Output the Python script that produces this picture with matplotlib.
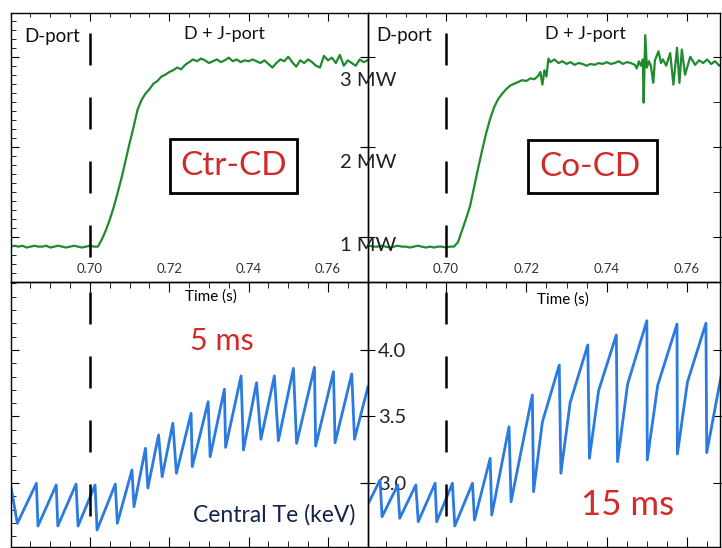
import matplotlib.pyplot as plt
from matplotlib.patches import Rectangle
from matplotlib.ticker import MultipleLocator

plt.rcParams['font.family'] = ['Lato', 'DejaVu Sans']

# --- data ---
# NBI power, Ctr-CD shot (MW)
t_pow_ctr = [0.680, 0.681, 0.682, 0.683, 0.684, 0.685, 0.686, 0.687, 0.688, 0.689,
             0.690, 0.691, 0.692, 0.693, 0.694, 0.695, 0.696, 0.697, 0.698, 0.699,
             0.700, 0.701, 0.702, 0.703, 0.704, 0.705, 0.706, 0.707, 0.708, 0.709,
             0.710, 0.711, 0.712, 0.713, 0.714, 0.715, 0.716, 0.717, 0.718, 0.719,
             0.720, 0.721, 0.722, 0.723, 0.724, 0.725, 0.726, 0.727, 0.728, 0.729,
             0.730, 0.731, 0.732, 0.733, 0.734, 0.735, 0.736, 0.737, 0.738, 0.739,
             0.740, 0.741, 0.742, 0.743, 0.744, 0.745, 0.746, 0.747, 0.748, 0.749,
             0.750, 0.751, 0.752, 0.753, 0.754, 0.755, 0.756, 0.757, 0.758, 0.759,
             0.760, 0.761, 0.762, 0.763, 0.764, 0.765, 0.766, 0.767, 0.768, 0.769, 0.770]
p_ctr = [0.89, 0.90, 0.89, 0.90, 0.88, 0.89, 0.90, 0.89, 0.89, 0.90,
         0.88, 0.89, 0.90, 0.89, 0.88, 0.89, 0.90, 0.89, 0.88, 0.89,
         0.90, 0.89, 0.89, 0.97, 1.07, 1.19, 1.33, 1.49, 1.66, 1.85,
         2.04, 2.22, 2.41, 2.52, 2.59, 2.64, 2.70, 2.73, 2.78, 2.80,
         2.83, 2.85, 2.88, 2.86, 2.91, 2.94, 2.97, 2.95, 2.98, 2.96,
         2.93, 2.95, 2.97, 2.94, 2.96, 2.99, 2.95, 2.97, 2.94, 2.96,
         2.95, 2.97, 2.95, 2.93, 2.96, 2.92, 2.88, 2.93, 2.97, 2.95,
         3.00, 2.94, 2.89, 2.96, 2.93, 2.97, 2.94, 2.90, 2.88, 3.01,
         2.96, 2.99, 2.93, 3.02, 2.90, 2.96, 2.93, 2.90, 2.97, 2.94, 2.96]

# NBI power, Co-CD shot (MW)
t_pow_co = [0.680, 0.681, 0.682, 0.683, 0.684, 0.685, 0.686, 0.687, 0.688, 0.689,
            0.690, 0.691, 0.692, 0.693, 0.694, 0.695, 0.696, 0.697, 0.698, 0.699,
            0.700, 0.701, 0.702, 0.703, 0.704, 0.705, 0.706, 0.707, 0.708, 0.709,
            0.710, 0.711, 0.712, 0.713, 0.714, 0.715, 0.716, 0.717, 0.718, 0.719,
            0.720, 0.721, 0.722, 0.723, 0.7235, 0.724, 0.7245, 0.725, 0.7255, 0.726,
            0.727, 0.728, 0.729, 0.730, 0.731, 0.732, 0.733, 0.734, 0.735, 0.736,
            0.737, 0.738, 0.739, 0.740, 0.741, 0.742, 0.743, 0.744, 0.745, 0.746,
            0.747, 0.7475, 0.748, 0.7485, 0.749, 0.7492, 0.7496, 0.750, 0.7505, 0.751,
            0.7516, 0.752, 0.7529, 0.7535, 0.754, 0.7548, 0.7558, 0.7566, 0.7575, 0.7581,
            0.7587, 0.7595, 0.7608, 0.762, 0.763, 0.764, 0.765, 0.766, 0.767, 0.768, 0.769]
p_co = [0.89, 0.90, 0.89, 0.89, 0.90, 0.89, 0.88, 0.89, 0.90, 0.89,
        0.89, 0.88, 0.89, 0.90, 0.89, 0.88, 0.89, 0.88, 0.89, 0.89,
        0.88, 0.89, 0.89, 0.94, 1.07, 1.20, 1.34, 1.55, 1.76, 1.96,
        2.15, 2.31, 2.44, 2.53, 2.59, 2.64, 2.68, 2.70, 2.72, 2.74,
        2.73, 2.76, 2.75, 2.79, 2.83, 2.69, 2.85, 2.78, 2.98, 2.94,
        2.97, 2.93, 2.95, 2.92, 2.94, 2.91, 2.93, 2.92, 2.90, 2.92,
        2.91, 2.93, 2.92, 2.94, 2.92, 2.93, 2.95, 2.92, 2.94, 2.93,
        2.91, 2.87, 2.95, 2.90, 2.97, 2.49, 3.24, 2.88, 2.95, 2.90,
        2.71, 2.96, 3.06, 2.93, 2.97, 2.90, 3.04, 2.69, 3.10, 2.71,
        3.08, 2.80, 3.00, 2.91, 2.96, 2.93, 2.97, 2.92, 2.95, 2.90, 2.93]

# central Te sawteeth (keV), Ctr-CD shot
t_te_ctr = [0.6800, 0.6817, 0.6865, 0.6869, 0.6915, 0.6919, 0.6965, 0.6970, 0.7013, 0.7018,
            0.7064, 0.7069, 0.7106, 0.7111, 0.7140, 0.7146, 0.7173, 0.7182, 0.7209, 0.7218,
            0.7255, 0.7258, 0.7298, 0.7303, 0.7339, 0.7342, 0.7381, 0.7387, 0.7420, 0.7431,
            0.7465, 0.7475, 0.7513, 0.7521, 0.7566, 0.7569, 0.7614, 0.7618, 0.7660, 0.7667, 0.7701]
te_ctr = [2.985, 2.697, 2.998, 2.677, 2.985, 2.677, 2.992, 2.677, 2.985, 2.647,
          2.992, 2.697, 3.098, 2.822, 3.261, 2.962, 3.361, 3.047, 3.449, 3.073,
          3.524, 3.123, 3.611, 3.198, 3.705, 3.268, 3.805, 3.248, 3.754, 3.329,
          3.805, 3.318, 3.862, 3.298, 3.870, 3.278, 3.837, 3.303, 3.820, 3.329, 3.724]

# central Te sawteeth (keV), Co-CD shot
t_te_co = [0.6805, 0.6836, 0.6841, 0.6880, 0.6885, 0.6925, 0.6931, 0.6973, 0.6977, 0.7016,
           0.7022, 0.7066, 0.7071, 0.7110, 0.7114, 0.7157, 0.7162, 0.7215, 0.7218, 0.7240,
           0.7282, 0.7286, 0.7309, 0.7353, 0.7357, 0.7380, 0.7424, 0.7427, 0.7452, 0.7500,
           0.7501, 0.7527, 0.7575, 0.7576, 0.7601, 0.7647, 0.7649, 0.7687]
te_co = [2.835, 3.023, 2.747, 2.985, 2.735, 2.985, 2.709, 2.998, 2.709, 2.998,
         2.677, 2.998, 2.722, 3.186, 2.759, 3.423, 2.859, 3.662, 2.935, 3.459,
         3.887, 3.073, 3.604, 4.038, 3.186, 3.696, 4.113, 3.160, 3.743, 4.220,
         3.173, 3.735, 4.195, 3.218, 3.759, 4.201, 3.228, 3.842]

t_switch = 0.70
time_ticks = [0.70, 0.72, 0.74, 0.76]
mw_ticks = [1, 2, 3]
te_ticks = [3.0, 3.5, 4.0]

green = '#1f8a2f'
blue = '#2a7ae0'
red = '#d02a2a'

fig = plt.figure(figsize=(7.22, 5.48), dpi=100)
fig.patch.set_facecolor('white')

W, H = 722, 548
def box(x0, y0, x1, y1):
    return [x0 / W, 1 - y1 / H, (x1 - x0) / W, (y1 - y0) / H]

ax_tl = fig.add_axes(box(11, 13, 368, 282))
ax_tr = fig.add_axes(box(368, 13, 720, 282))
ax_bl = fig.add_axes(box(11, 282, 368, 547))
ax_br = fig.add_axes(box(368, 282, 720, 547))

for ax in (ax_tl, ax_tr, ax_bl, ax_br):
    ax.set_facecolor('none')
    for s in ax.spines.values():
        s.set_linewidth(1.0)

ax_tl.set_xlim(0.6801, 0.7701)
ax_bl.set_xlim(0.6801, 0.7701)
ax_tr.set_xlim(0.6806, 0.7682)
ax_br.set_xlim(0.6806, 0.7682)
for ax in (ax_tl, ax_tr):
    ax.set_ylim(0.497, 3.486)
for ax in (ax_bl, ax_br):
    ax.set_ylim(2.519, 4.511)

# traces
ax_tl.plot(t_pow_ctr, p_ctr, color=green, lw=1.6)
ax_tr.plot(t_pow_co, p_co, color=green, lw=1.6)
ax_bl.plot(t_te_ctr, te_ctr, color=blue, lw=2.0)
ax_br.plot(t_te_co, te_co, color=blue, lw=2.0)

# dashed switch-on marker, same dash rhythm across top and bottom
lw_d = 1.8
on, off = 32 * 0.72 / lw_d, 32 * 0.72 / lw_d
for ax in (ax_tl, ax_tr):
    ax.axvline(t_switch, ymin=1, ymax=0, color='black', lw=lw_d,
               linestyle=(44 * 0.72 / lw_d, (on, off)))
for ax in (ax_bl, ax_br):
    ax.axvline(t_switch, ymin=1, ymax=0, color='black', lw=lw_d,
               linestyle=(54 * 0.72 / lw_d, (on, off)))

# x ticks
for ax in (ax_tl, ax_tr, ax_bl, ax_br):
    ax.xaxis.set_minor_locator(MultipleLocator(0.005))
for ax in (ax_tl, ax_tr):
    ax.set_xticks(time_ticks, labels=[f'{t:.2f}' for t in time_ticks],
                  fontsize=9.5, color='#333333')
    ax.tick_params(axis='x', which='both', direction='in', bottom=False, top=True,
                   labelbottom=True, pad=-14)
    ax.tick_params(axis='x', which='major', length=6)
    ax.tick_params(axis='x', which='minor', length=3)
for ax in (ax_bl, ax_br):
    ax.set_xticks(time_ticks)
    ax.tick_params(axis='x', which='both', direction='in', bottom=True, top=True,
                   labelbottom=False)
    ax.tick_params(axis='x', which='major', length=7)
    ax.tick_params(axis='x', which='minor', length=4)

ax_tl.set_xlabel('Time (s)', fontsize=11)
ax_tl.xaxis.set_label_coords(0.56, -0.028)
ax_tr.set_xlabel('Time (s)', fontsize=11)
ax_tr.xaxis.set_label_coords(0.554, -0.04)

# y ticks, top row
ax_tl.set_yticks(mw_ticks, labels=[])
ax_tl.yaxis.set_minor_locator(MultipleLocator(0.1))
ax_tl.tick_params(axis='y', which='major', direction='in', left=True, right=True, length=6)
ax_tl.tick_params(axis='y', which='minor', direction='in', left=True, right=False, length=3.5)

ax_tr.set_yticks(mw_ticks, labels=[])
ax_tr.yaxis.set_minor_locator(MultipleLocator(0.5))
ax_tr.tick_params(axis='y', which='major', direction='inout', left=True, right=True, length=10)
ax_tr.tick_params(axis='y', which='minor', direction='in', left=False, right=True, length=5)

mw_label_y = [0.1345, 0.4433, 0.7509]  # axes fraction, as placed in the original
for v, yl in zip(mw_ticks, mw_label_y):
    ax_tr.text(0, yl, f'{v} MW', transform=ax_tr.transAxes, ha='center', va='center',
               fontsize=14.5, color='#222222', clip_on=False)

# y ticks, bottom row
ax_bl.set_yticks(te_ticks, labels=[])
ax_bl.yaxis.set_minor_locator(MultipleLocator(0.1))
ax_bl.tick_params(axis='y', which='major', direction='in', left=True, right=True, length=6)
ax_bl.tick_params(axis='y', which='minor', direction='in', left=True, right=False, length=3.5)

ax_br.set_yticks(te_ticks, labels=[f'{v:.1f}' for v in te_ticks], ha='left',
                 fontsize=14.5, color='#222222')
ax_br.tick_params(axis='y', which='major', direction='inout', left=True, right=True,
                  length=10, pad=-12)

# annotations
ax_tl.text(0.115, 0.911, 'D-port', transform=ax_tl.transAxes, ha='center', va='center',
           fontsize=13.5, color='#111111')
ax_tl.text(0.597, 0.922, 'D + J-port', transform=ax_tl.transAxes, ha='center', va='center',
           fontsize=13, color='#111111')
ax_tr.text(0.104, 0.9145, 'D-port', transform=ax_tr.transAxes, ha='center', va='center',
           fontsize=13.5, color='#111111')
ax_tr.text(0.618, 0.922, 'D + J-port', transform=ax_tr.transAxes, ha='center', va='center',
           fontsize=13, color='#111111')

ax_tl.add_patch(Rectangle((0.445, 0.331), 0.356, 0.2007, transform=ax_tl.transAxes,
                          fill=False, edgecolor='black', lw=2))
ax_tl.text(0.623, 0.433, 'Ctr-CD', transform=ax_tl.transAxes, ha='center', va='center',
           fontsize=24, color=red)
ax_tr.add_patch(Rectangle((0.4545, 0.331), 0.366, 0.197, transform=ax_tr.transAxes,
                          fill=False, edgecolor='black', lw=2))
ax_tr.text(0.632, 0.429, 'Co-CD', transform=ax_tr.transAxes, ha='center', va='center',
           fontsize=24, color=red)

ax_bl.text(0.592, 0.777, '5 ms', transform=ax_bl.transAxes, ha='center', va='center',
           fontsize=22, color=red)
ax_bl.text(0.737, 0.121, 'Central Te (keV)', transform=ax_bl.transAxes, ha='center',
           va='center', fontsize=16.5, color='#14234b')
ax_br.text(0.737, 0.158, '15 ms', transform=ax_br.transAxes, ha='center', va='center',
           fontsize=25, color=red)

fig.savefig('out.png', dpi=100)
